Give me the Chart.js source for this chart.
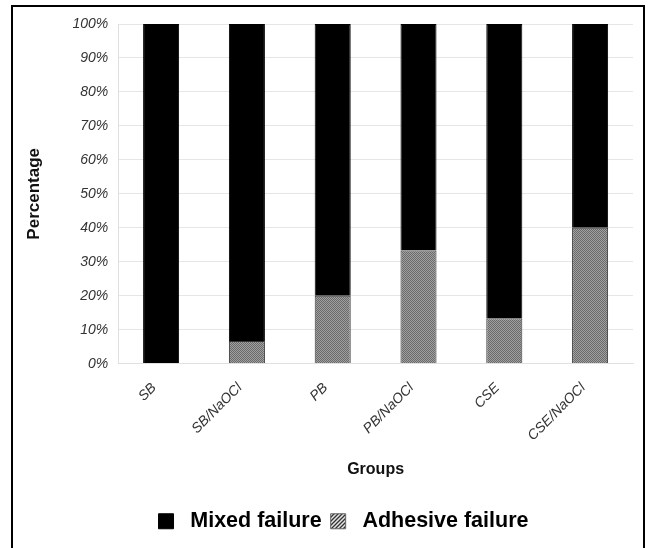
<!DOCTYPE html>
<html>
<head>
<meta charset="utf-8">
<script src="https://cdn.jsdelivr.net/npm/chart.js@4/dist/chart.umd.min.js"></script>
<style>
  html, body { margin: 0; padding: 0; background: #fff; }
  #wrap { position: relative; width: 650px; height: 548px; }
  #frame { position: absolute; left: 11px; top: 5px; width: 634px; height: 560px; border: 2px solid #000; box-sizing: border-box; }
  canvas { position: absolute; left: 0; top: 0; }
</style>
</head>
<body>
<div id="wrap">
  <div id="frame"></div>
  <canvas id="c" width="650" height="548"></canvas>
</div>
<script>
const categories = ["SB", "SB/NaOCl", "PB", "PB/NaOCl", "CSE", "CSE/NaOCl"];
const adhesiveFailure = [0, 6.67, 20, 33.33, 13.33, 40];
const mixedFailure = [100, 93.33, 80, 66.67, 86.67, 60];
const yTicks = [0, 10, 20, 30, 40, 50, 60, 70, 80, 90, 100];

function dotPattern() {
  const c = document.createElement('canvas');
  c.width = 2; c.height = 2;
  const g = c.getContext('2d');
  g.fillStyle = '#a0a0a0'; g.fillRect(0, 0, 2, 2);
  g.fillStyle = '#6a6a6a'; g.fillRect(0, 0, 1, 1); g.fillRect(1, 1, 1, 1);
  return g.createPattern(c, 'repeat');
}
function hatchPattern() {
  const c = document.createElement('canvas');
  c.width = 4; c.height = 4;
  const g = c.getContext('2d');
  g.fillStyle = '#e6e6e6'; g.fillRect(0, 0, 4, 4);
  g.strokeStyle = '#333'; g.lineWidth = 1.3;
  g.beginPath();
  g.moveTo(-1, 5); g.lineTo(5, -1);
  g.moveTo(-1, 1); g.lineTo(1, -1);
  g.moveTo(3, 5); g.lineTo(5, 3);
  g.stroke();
  return g.createPattern(c, 'repeat');
}
const dots = dotPattern();
const hatch = hatchPattern();

const shiftLegend = {
  id: 'shiftLegend',
  afterLayout(chart) {
    const lg = chart.legend;
    if (lg) { lg.left += 15; lg.right += 15; }
  }
};

const ctx = document.getElementById('c').getContext('2d');
new Chart(ctx, {
  type: 'bar',
  data: {
    labels: categories,
    datasets: [
      { label: 'Adhesive failure', data: adhesiveFailure, backgroundColor: dots, borderColor: '#333', borderWidth: 1 },
      { label: 'Mixed failure', data: mixedFailure, backgroundColor: '#000', borderColor: '#000', borderWidth: 1 }
    ]
  },
  plugins: [shiftLegend],
  options: {
    responsive: false,
    animation: false,
    layout: { padding: { left: 24, right: 17, top: 24, bottom: 6 } },
    datasets: { bar: { categoryPercentage: 1.0, barPercentage: 0.42 } },
    scales: {
      x: {
        stacked: true,
        grid: { display: false },
        border: { color: '#e0e0e0' },
        ticks: { color: '#333', font: { family: 'Liberation Sans', size: 14, style: 'italic' }, minRotation: 45, maxRotation: 45, padding: 8, labelOffset: -7 },
        title: { display: true, text: 'Groups', color: '#111', font: { family: 'Liberation Sans', size: 16, weight: 'bold' }, padding: { top: 8, bottom: 22 } }
      },
      y: {
        stacked: true,
        min: 0, max: 100,
        afterBuildTicks: (ax) => { ax.ticks = yTicks.map(v => ({ value: v })); },
        grid: { color: '#e6e6e6', drawTicks: false },
        border: { color: '#e0e0e0' },
        ticks: { color: '#333', padding: 10, font: { family: 'Liberation Sans', size: 14, style: 'italic' }, callback: (v) => v + '%' },
        title: { display: true, text: 'Percentage', color: '#111', font: { family: 'Liberation Sans', size: 17, weight: 'bold' }, padding: { top: 0, bottom: 18 } }
      }
    },
    plugins: {
      tooltip: { enabled: false },
      legend: {
        position: 'bottom',
        labels: {
          color: '#111',
          boxWidth: 15, boxHeight: 15,
          padding: 9,
          font: { family: 'Liberation Sans', size: 21.5, weight: 'bold' },
          generateLabels: (chart) => [
            { text: ' Mixed failure', fillStyle: '#000', strokeStyle: '#000', lineWidth: 1, datasetIndex: 1 },
            { text: ' Adhesive failure', fillStyle: hatch, strokeStyle: '#666', lineWidth: 1, datasetIndex: 0 }
          ]
        }
      }
    }
  }
});
</script>
</body>
</html>
